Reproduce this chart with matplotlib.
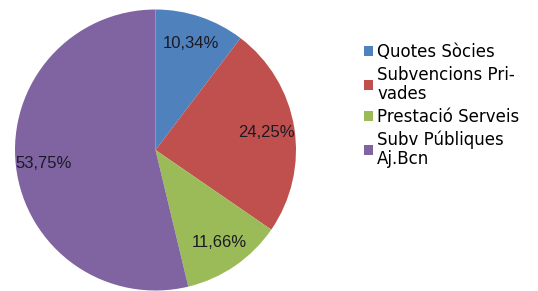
import numpy as np
import matplotlib.pyplot as plt
from matplotlib.patches import Patch

labels = ["Quotes Sòcies", "Subvencions Pri-\nvades", "Prestació Serveis", "Subv Públiques\nAj.Bcn"]
values = [10.34, 24.25, 11.66, 53.75]
pct_labels = ["10,34%", "24,25%", "11,66%", "53,75%"]
colors = ["#4F81BD", "#C0504D", "#9BBB59", "#8064A2"]

W, H = 538, 291
fig = plt.figure(figsize=(W / 100, H / 100), dpi=100)

# pie axes placed in pixels: centre (155.5, 150 from top), radius 140.5
r = 140.5
cx, cy = 155.5, H - 150
ax = fig.add_axes([(cx - r) / W, (cy - r) / H, 2 * r / W, 2 * r / H])

wedges, texts = ax.pie(values, colors=colors, startangle=90, counterclock=False,
                       wedgeprops=dict(linewidth=0))
ax.set_xlim(-1, 1)
ax.set_ylim(-1, 1)
ax.set_aspect("equal")

# percentage labels at the middle of each slice
total = sum(values)
start = 90.0
for w, lab in zip(values, pct_labels):
    mid = start - w / total * 360 / 2
    start -= w / total * 360
    d = 0.8
    ax.text(d * np.cos(np.radians(mid)), d * np.sin(np.radians(mid)), lab,
            ha="center", va="center", fontsize=12, family="Liberation Sans",
            color="#1a1a24")

handles = [Patch(facecolor=c, edgecolor="none") for c in colors]
leg = fig.legend(handles, labels, loc="upper left", bbox_to_anchor=(364 / W, 1 - 43 / H),
                 frameon=False, fontsize=12, handlelength=0.55, handleheight=0.55,
                 handletextpad=0.25, labelspacing=0.28, borderaxespad=0, borderpad=0)
for t in leg.get_texts():
    t.set_linespacing(1.1)

fig.savefig("out.png", dpi=100)
